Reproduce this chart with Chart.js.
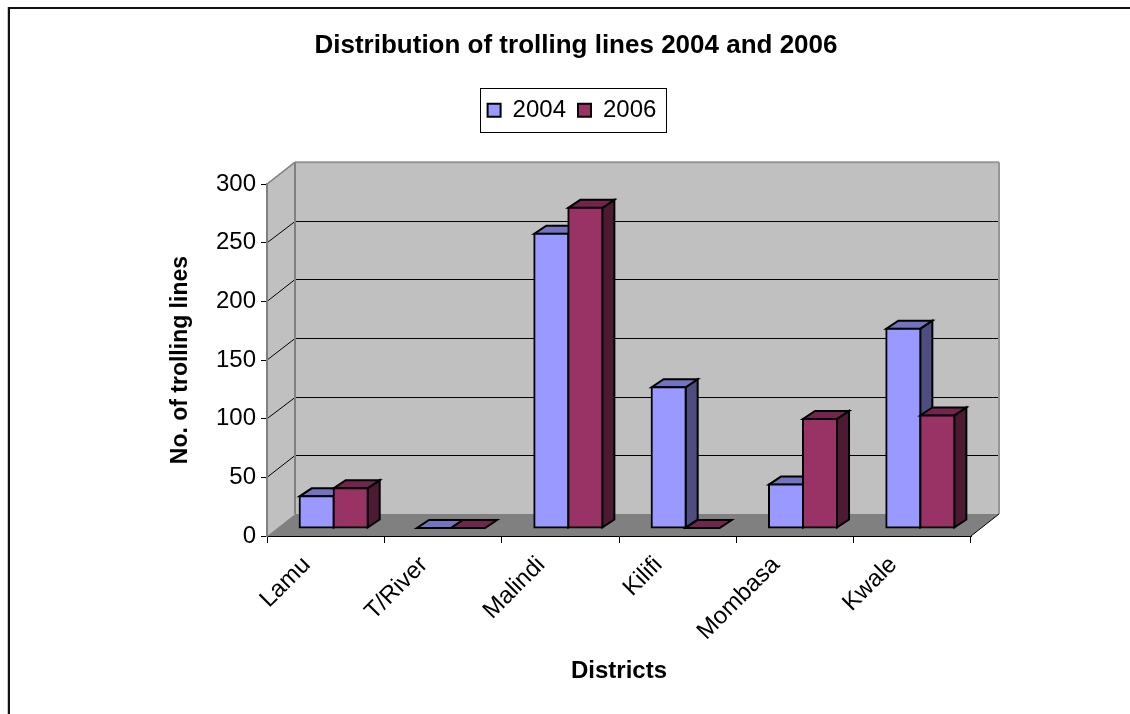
<!DOCTYPE html>
<html>
<head>
<meta charset="utf-8">
<style>
  html, body { margin: 0; padding: 0; background: #fff; }
  canvas { display: block; }
</style>
<script src="https://cdn.jsdelivr.net/npm/chart.js@4"></script>
</head>
<body>
<canvas id="trolling" width="1130" height="714"></canvas>
<script>
const districts = ["Lamu", "T/River", "Malindi", "Kilifi", "Mombasa", "Kwale"];
const lines2004 = [27, 0, 251, 120, 37, 170];
const lines2006 = [34, 0, 273, 0, 93, 96];

//Depth of the box behind the front axes
const wallDepth = { x: 28, y: 22 };
//Bars stand a little way in from the front edge of the floor
const barInset = { x: 8, y: 8 };
const barDepth = { x: 12, y: 8 };

const polygon = (ctx, points, fill, stroke, width) => {
  ctx.beginPath();
  points.forEach((p, i) => (i ? ctx.lineTo(p[0], p[1]) : ctx.moveTo(p[0], p[1])));
  ctx.closePath();
  if (fill) {
    ctx.fillStyle = fill;
    ctx.fill();
  }
  if (stroke) {
    ctx.strokeStyle = stroke;
    ctx.lineWidth = width;
    ctx.stroke();
  }
};

const segment = (ctx, x1, y1, x2, y2, color, width) => {
  ctx.beginPath();
  ctx.moveTo(x1, y1);
  ctx.lineTo(x2, y2);
  ctx.strokeStyle = color;
  ctx.lineWidth = width;
  ctx.stroke();
};

//Back wall, side wall and floor
const boxPlugin = {
  id: "box",
  beforeDraw(chart) {
    const { ctx, chartArea: a, scales } = chart;
    const dx = wallDepth.x, dy = wallDepth.y;
    ctx.save();
    polygon(ctx, [[a.left + dx, a.top - dy], [a.right + dx, a.top - dy], [a.right + dx, a.bottom - dy], [a.left + dx, a.bottom - dy]], "#c0c0c0");
    polygon(ctx, [[a.left, a.top], [a.left + dx, a.top - dy], [a.left + dx, a.bottom - dy], [a.left, a.bottom]], "#c0c0c0");
    polygon(ctx, [[a.left, a.bottom], [a.left + dx, a.bottom - dy], [a.right + dx, a.bottom - dy], [a.right, a.bottom]], "#808080");

    scales.y.ticks.forEach((t) => {
      const y = scales.y.getPixelForValue(t.value);
      const back = Math.round(y - dy) + 0.5;
      if (t.value > 0 && t.value < scales.y.max) {
        segment(ctx, a.left, y, a.left + dx, back, "#000", 1);
        segment(ctx, a.left + dx, back, a.right + dx, back, "#000", 1);
      }
    });

    segment(ctx, a.left, a.top, a.left + dx, a.top - dy, "#808080", 1.5);
    segment(ctx, a.left + dx, a.top - dy, a.right + dx, a.top - dy, "#969696", 2);
    segment(ctx, a.left + dx, a.top - dy, a.left + dx, a.bottom - dy, "#808080", 2);
    segment(ctx, a.right + dx, a.top - dy, a.right + dx, a.bottom - dy, "#969696", 2);
    segment(ctx, a.right, a.bottom, a.right + dx, a.bottom - dy, "#000", 1);
    ctx.restore();
  },
  //Bars are painted left to right so that later faces overlap earlier ones
  beforeDatasetsDraw(chart) {
    const { ctx } = chart;
    ctx.save();
    ctx.translate(barInset.x, -barInset.y);
    districts.forEach((_, i) => {
      chart.data.datasets.forEach((ds, d) => {
        const bar = chart.getDatasetMeta(d).data[i];
        const { x, y, base, width } = bar.getProps(["x", "y", "base", "width"], true);
        const l = x - width / 2, r = x + width / 2;
        const dx = barDepth.x, dy = barDepth.y;
        if (base - y > 0) {
          polygon(ctx, [[r, y], [r + dx, y - dy], [r + dx, base - dy], [r, base]], ds.sideColor, "#000", 2);
        }
        polygon(ctx, [[l, y], [r, y], [r + dx, y - dy], [l + dx, y - dy]], ds.topColor, "#000", 2);
        if (base - y > 0) {
          bar.draw(ctx);
        }
      });
    });
    ctx.restore();
  },
  beforeDatasetDraw() {
    return false;
  },
  //Frame round the legend and the sheet edge
  afterDraw(chart) {
    const { ctx, legend } = chart;
    const boxes = legend.legendHitBoxes;
    const left = Math.min(...boxes.map((b) => b.left)) - 8;
    const right = Math.max(...boxes.map((b) => b.left + b.width)) + 9;
    ctx.save();
    ctx.strokeStyle = "#000";
    ctx.lineWidth = 1;
    ctx.strokeRect(Math.round(left) + 0.5, 88.5, Math.round(right - left), 44);
    ctx.fillStyle = "#111";
    ctx.fillRect(8, 7, 1122, 2);
    ctx.fillRect(8, 7, 2, 707);
    ctx.fillStyle = "#c8c8c8";
    ctx.fillRect(7, 7, 1, 707);
    ctx.restore();
  },
  afterLayout(chart) {
    //Title sits slightly right of the legend centre
    chart.titleBlock.left += 8;
  },
};

const font = "'Liberation Sans', Arial, sans-serif";

new Chart(document.getElementById("trolling"), {
  type: "bar",
  plugins: [boxPlugin],
  data: {
    labels: districts,
    datasets: [
      {
        label: "2004",
        data: lines2004,
        backgroundColor: "#9999ff",
        borderColor: "#000",
        borderWidth: 2,
        borderSkipped: false,
        inflateAmount: 1,
        topColor: "#7373bf",
        sideColor: "#4d4d80",
      },
      {
        label: "2006",
        data: lines2006,
        backgroundColor: "#993366",
        borderColor: "#000",
        borderWidth: 2,
        borderSkipped: false,
        inflateAmount: 1,
        topColor: "#73264d",
        sideColor: "#4d1a33",
      },
    ],
  },
  options: {
    responsive: false,
    animation: false,
    layout: { padding: { left: 14, right: 0, top: 0, bottom: 0 }, autoPadding: false },
    categoryPercentage: 0.58,
    barPercentage: 1,
    scales: {
      x: {
        position: "bottom",
        grid: { drawOnChartArea: false, color: "#000", tickLength: 7 },
        border: { color: "#000", width: 1 },
        ticks: {
          minRotation: 45,
          maxRotation: 45,
          color: "#000",
          padding: 8,
          labelOffset: -19,
          font: { family: font, size: 24 },
        },
        title: {
          display: true,
          text: "Districts",
          color: "#000",
          padding: { top: 0, bottom: 28 },
          font: { family: font, size: 24, weight: "bold" },
        },
        afterFit: (s) => {
          s.height = 178;
        },
      },
      y: {
        min: 0,
        max: 300,
        position: "left",
        grid: { drawOnChartArea: false, color: "#000", tickLength: 6 },
        border: { color: "#808080", width: 2 },
        ticks: {
          stepSize: 50,
          color: "#000",
          padding: 5,
          font: { family: font, size: 24 },
        },
        title: {
          display: true,
          text: "No. of trolling lines",
          color: "#000",
          padding: { top: 153, bottom: 0 },
          font: { family: font, size: 23, weight: "bold" },
        },
        afterFit: (s) => {
          s.width = 253;
        },
      },
      //Empty axes that only reserve room above and to the right of the plot
      spacerTop: {
        type: "category",
        position: "top",
        ticks: { display: false },
        grid: { display: false },
        border: { display: false },
        afterFit: (s) => {
          s.height = 52;
        },
      },
      spacerRight: {
        type: "linear",
        position: "right",
        ticks: { display: false },
        grid: { display: false },
        border: { display: false },
        afterFit: (s) => {
          s.width = 159;
        },
      },
    },
    plugins: {
      tooltip: { enabled: false },
      title: {
        display: true,
        text: "Distribution of trolling lines 2004 and 2006",
        color: "#000",
        padding: { top: 30, bottom: 25 },
        font: { family: font, size: 26, weight: "bold" },
      },
      legend: {
        position: "top",
        labels: {
          color: "#000",
          boxWidth: 13,
          boxHeight: 13,
          padding: 12,
          font: { family: font, size: 24 },
        },
      },
    },
  },
});
</script>
</body>
</html>
